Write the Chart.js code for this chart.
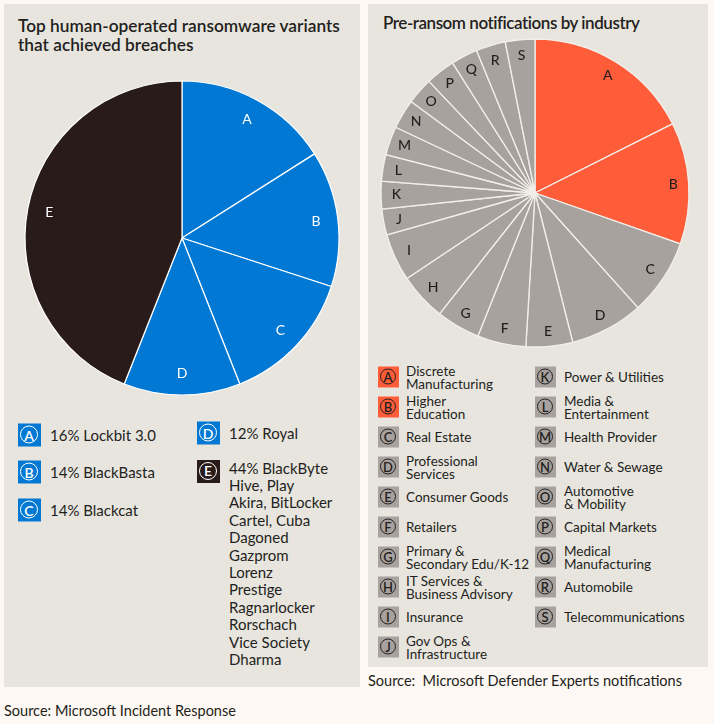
<!DOCTYPE html>
<html>
<head>
<meta charset="utf-8">
<script src="https://cdn.jsdelivr.net/npm/chart.js@4.4.0/dist/chart.umd.min.js"></script>
<style>
  body { margin: 0; background: #fdf8f3; font-family: Lato, "Noto Sans", sans-serif; color: #231f20; }
  #page { position: relative; width: 714px; height: 724px; overflow: hidden; }
  .panel { position: absolute; background: #e8e5df; }
  .title { position: absolute; font-weight: 600; font-size: 17.5px; line-height: 19px; }
  .canvasBox { position: absolute; width: 330px; height: 330px; }
  .row { position: absolute; display: flex; align-items: center; }
  .icon { flex: none; position: relative; }
  .icon span { position: absolute; border-radius: 50%; display: flex; align-items: center; justify-content: center; font-weight: 600; }
  .src { position: absolute; font-size: 14.5px; }
</style>
</head>
<body>
<div id="page">
  <div class="panel" style="left:4px; top:4px; width:356px; height:683px;"></div>
  <div class="panel" style="left:368px; top:4px; width:340px; height:663px;"></div>
  <div class="title" style="left:18px; top:16px; font-size:17.3px;">Top human-operated ransomware variants<br>that achieved breaches</div>
  <div class="title" style="left:383px; top:13px; font-size:17px; letter-spacing:-0.45px;">Pre-ransom notifications by industry</div>
  <div class="canvasBox" style="left:17px; top:73px;"><canvas id="variantChart"></canvas></div>
  <div class="canvasBox" style="left:370px; top:28px;"><canvas id="industryChart"></canvas></div>
  <div id="legends"></div>
  <div class="src" style="left:4px; top:702px;">Source: Microsoft Incident Response</div>
  <div class="src" style="left:368px; top:672px;">Source:&nbsp; Microsoft Defender Experts notifications</div>
</div>
<script>
// Left chart: ransomware variants (percent of breaches)
var variantLetters = ['A', 'B', 'C', 'D', 'E'];
var variantValues = [16, 14, 14, 12, 44];
var variantNames = ['Lockbit 3.0', 'BlackBasta', 'Blackcat', 'Royal', 'BlackByte'];
var otherVariants = ['Hive, Play', 'Akira, BitLocker', 'Cartel, Cuba', 'Dagoned', 'Gazprom', 'Lorenz',
    'Prestige', 'Ragnarlocker', 'Rorschach', 'Vice Society', 'Dharma'];

// Right chart: pre-ransom notifications by industry (share)
var industryLetters = ['A', 'B', 'C', 'D', 'E', 'F', 'G', 'H', 'I', 'J', 'K', 'L', 'M', 'N', 'O', 'P', 'Q', 'R', 'S'];
var industryValues = [17.6, 12.8, 8.0, 7.7, 4.9, 5.1, 4.6, 5.0, 5.0, 2.7, 2.9, 2.8, 3.0, 3.1, 2.8, 3.1, 2.8, 3.1, 3.1];
var industryNames = ['Discrete\nManufacturing', 'Higher\nEducation', 'Real Estate', 'Professional\nServices',
    'Consumer Goods', 'Retailers', 'Primary &\nSecondary Edu/K-12', 'IT Services &\nBusiness Advisory',
    'Insurance', 'Gov Ops &\nInfrastructure', 'Power & Utilities', 'Media &\nEntertainment', 'Health Provider',
    'Water & Sewage', 'Automotive\n& Mobility', 'Capital Markets', 'Medical\nManufacturing', 'Automobile',
    'Telecommunications'];

var blue = '#0078d4', dark = '#2a1b1b', orange = '#ff5c39', grey = '#a8a29e';
var variantColors = variantLetters.map(function (l) { return l === 'E' ? dark : blue; });
var industryColors = industryLetters.map(function (l, i) { return i < 2 ? orange : grey; });

// draws the letter in the middle of each slice
var sliceLetters = {
    id: 'sliceLetters',
    afterDatasetsDraw: function (chart, args, opts) {
        var ctx = chart.ctx;
        var meta = chart.getDatasetMeta(0);
        ctx.save();
        ctx.font = opts.font;
        ctx.fillStyle = opts.color;
        ctx.textAlign = 'center';
        ctx.textBaseline = 'middle';
        meta.data.forEach(function (arc, i) {
            var p = arc.getProps(['x', 'y', 'startAngle', 'endAngle', 'outerRadius'], true);
            var a = (p.startAngle + p.endAngle) / 2;
            var r = p.outerRadius * opts.at;
            ctx.fillText(chart.data.labels[i], p.x + Math.cos(a) * r, p.y + Math.sin(a) * r);
        });
        ctx.restore();
    }
};

function pieOptions(radius, letterOpts) {
    return {
        responsive: true,
        maintainAspectRatio: false,
        animation: false,
        radius: radius,
        layout: { padding: 0 },
        plugins: { legend: { display: false }, tooltip: { enabled: false }, sliceLetters: letterOpts }
    };
}

new Chart(document.getElementById('variantChart'), {
    type: 'pie',
    data: {
        labels: variantLetters,
        datasets: [{ data: variantValues, backgroundColor: variantColors, borderColor: '#ffffff', borderWidth: 1.2 }]
    },
    options: pieOptions(157, { font: '14px Lato, sans-serif', color: '#ffffff', at: 0.86 }),
    plugins: [sliceLetters]
});

new Chart(document.getElementById('industryChart'), {
    type: 'pie',
    data: {
        labels: industryLetters,
        datasets: [{ data: industryValues, backgroundColor: industryColors, borderColor: '#f2efea', borderWidth: 1.3 }]
    },
    options: pieOptions(154, { font: '500 14px Lato, sans-serif', color: '#231f20', at: 0.9 }),
    plugins: [sliceLetters]
});

// legends
var legends = document.getElementById('legends');

function makeIcon(letter, fill, ring, size) {
    var icon = document.createElement('div');
    icon.className = 'icon';
    icon.style.cssText = 'width:' + size + 'px;height:' + size + 'px;background:' + fill + ';';
    var c = document.createElement('span');
    var inner = size - 4;
    c.style.cssText = 'left:2px;top:2px;width:' + (inner - 3) + 'px;height:' + (inner - 3) + 'px;border:1.5px solid ' + ring +
        ';color:' + ring + ';font-size:' + Math.round(size * 0.62) + 'px;';
    c.textContent = letter;
    icon.appendChild(c);
    return icon;
}

function addRow(x, yCenter, icon, text, gap, fontSize, lineHeight) {
    var row = document.createElement('div');
    row.className = 'row';
    row.style.left = x + 'px';
    row.style.top = yCenter + 'px';
    row.style.transform = 'translateY(-50%)';
    row.appendChild(icon);
    var t = document.createElement('div');
    t.style.cssText = 'margin-left:' + gap + 'px;font-size:' + fontSize + 'px;line-height:' + lineHeight + 'px;white-space:pre;';
    t.textContent = text;
    row.appendChild(t);
    legends.appendChild(row);
    return row;
}

// left legend
var variantPos = [[18, 435], [18, 472], [18, 510], [197, 433], [197, 471]];
variantLetters.forEach(function (l, i) {
    var text = variantValues[i] + '% ' + variantNames[i];
    var icon = makeIcon(l, variantColors[i], '#ffffff', 23);
    var row = addRow(variantPos[i][0], variantPos[i][1], icon, text, 9, 15, 17.4);
    if (l === 'E') {
        row.style.transform = 'none';
        row.style.top = (variantPos[i][1] - 11.5) + 'px';
        row.style.alignItems = 'flex-start';
        row.lastChild.textContent = text + '\n' + otherVariants.join('\n');
    }
});

// right legend: A-J in the first column, K-S in the second
industryLetters.forEach(function (l, i) {
    var col = i < 10 ? 0 : 1;
    var k = col === 0 ? i : i - 10;
    var x = col === 0 ? 378 : 535;
    var y = 377 + k * 30;
    var icon = makeIcon(l, industryColors[i], '#231f20', 21);
    addRow(x, y, icon, industryNames[i], col === 0 ? 7 : 8, 13.5, 12.5);
});
</script>
</body>
</html>
